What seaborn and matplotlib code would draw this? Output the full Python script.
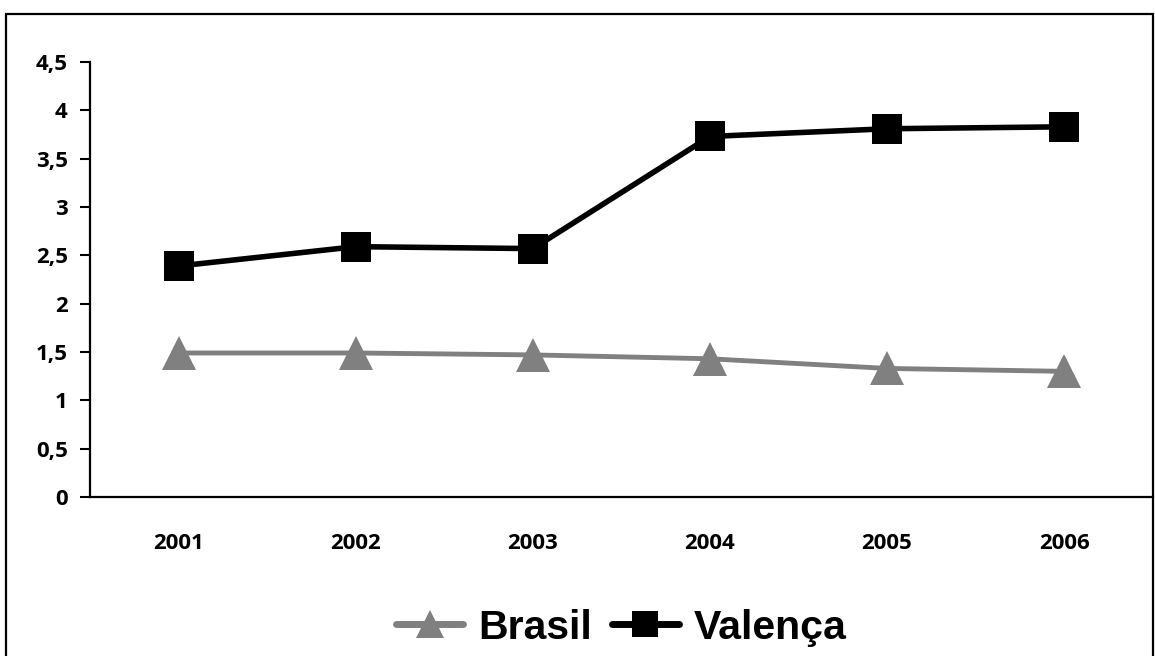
import numpy as np
import pandas as pd
import matplotlib.pyplot as plt
import seaborn as sns
from matplotlib.patches import Rectangle

# DADOS
anos = ['2001', '2002', '2003', '2004', '2005', '2006']
brasil = [1.49, 1.49, 1.47, 1.43, 1.33, 1.30]
valenca = [2.39, 2.59, 2.57, 3.73, 3.81, 3.83]
y_ticks = [0, 0.5, 1, 1.5, 2, 2.5, 3, 3.5, 4, 4.5]
y_labels = ['0', '0,5', '1', '1,5', '2', '2,5', '3', '3,5', '4', '4,5']

df = pd.DataFrame({'idx': range(len(anos)), 'Brasil': brasil, 'Valença': valenca})

sns.set_style('white')
plt.rcParams['font.family'] = ['Open Sans', 'DejaVu Sans']
plt.rcParams.update({'text.color': 'black', 'xtick.color': 'black',
                     'ytick.color': 'black', 'axes.labelcolor': 'black'})

fig = plt.figure(figsize=(11.55, 6.56), dpi=100)
ax = fig.add_axes([0.078, 0.2424, 0.920, 0.663])

sns.lineplot(data=df, x='idx', y='Brasil', ax=ax, color='#808080', linewidth=3.5,
             marker='^', markersize=24, markeredgewidth=0, label='Brasil')
sns.lineplot(data=df, x='idx', y='Valença', ax=ax, color='black', linewidth=4.0,
             marker='s', markersize=22, markeredgewidth=0, label='Valença')

ax.set_xlim(-0.5, len(anos) - 0.5)
ax.set_ylim(0, 4.5)
ax.set_xlabel('')
ax.set_ylabel('')

# eixo x: rotulos no centro, marcas nas divisoes
ax.set_xticks(range(len(anos)))
ax.set_xticklabels(anos, fontsize=16, fontweight='bold', color='black')
ax.set_xticks(np.arange(-0.5, len(anos), 1), minor=True)
ax.tick_params(axis='x', which='major', length=0, pad=26)
ax.tick_params(axis='x', which='minor', direction='in', length=6.5, width=1.5, color='black')

ax.set_yticks(y_ticks)
ax.set_yticklabels(y_labels, fontsize=16, fontweight='bold', color='black')
ax.tick_params(axis='y', direction='out', length=7, width=1.5, color='black', pad=9, left=True)

for s in ['top', 'right']:
    ax.spines[s].set_visible(False)
for s in ['left', 'bottom']:
    ax.spines[s].set_linewidth(1.6)
    ax.spines[s].set_color('black')

handles, labels = ax.get_legend_handles_labels()
ax.get_legend().remove()
leg = fig.legend(handles, labels, loc='center', bbox_to_anchor=(0.538, 0.043), ncol=2,
                 frameon=False, prop={'family': 'Liberation Sans', 'weight': 'bold', 'size': 29.5},
                 handlelength=1.65, handletextpad=0.36, columnspacing=0.48, markerscale=0.85,
                 labelcolor='black')
for h in leg.legend_handles:
    h.set_linewidth(5)

# moldura do grafico
fig.patches.append(Rectangle((6 / 1155, -0.01), 1147 / 1155, 1 - 14 / 656 + 0.01,
                             transform=fig.transFigure, fill=False, edgecolor='black',
                             linewidth=1.6))

fig.savefig('out.png', dpi=100)
